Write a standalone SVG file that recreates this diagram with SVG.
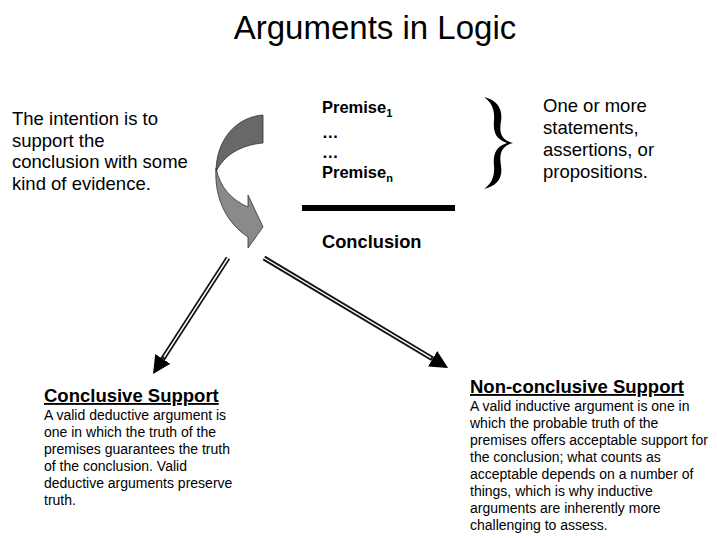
<svg xmlns="http://www.w3.org/2000/svg" width="717" height="538" viewBox="0 0 717 538">
<style>
text { font-family: "Liberation Sans", Arial, sans-serif; fill: #000; }
.title { font-size: 33px; }
.side { font-size: 18.5px; }
.prem { font-size: 16.5px; font-weight: bold; }
.sub { font-size: 11px; }
.concl { font-size: 18.3px; font-weight: bold; }
.head { font-size: 18.5px; font-weight: bold; text-decoration: underline; }
.body { font-size: 14px; }
.shaft { stroke: #111; stroke-width: 5; fill: none; }
.stripe { stroke: #fff; stroke-width: 1.4; fill: none; }
</style>
<defs>
<marker id="ah" markerUnits="userSpaceOnUse" markerWidth="18" markerHeight="18" refX="0" refY="9" orient="auto">
<path d="M0,0 L18,9 L0,18 Z" fill="#000"/>
</marker>
</defs>
<rect width="717" height="538" fill="#fff"/>

<g id="title"><text class="title" x="375" y="39" text-anchor="middle">Arguments in Logic</text></g>

<g id="intention">
<text class="side" x="12" y="125">The intention is to</text>
<text class="side" x="12" y="147">support the</text>
<text class="side" x="12" y="168">conclusion with some</text>
<text class="side" x="12" y="190">kind of evidence.</text>
</g>

<g id="curved-arrow" stroke="#333" stroke-width="0.8">
<path d="M263,115 C236,117 216,140 216,172 C223,156 240,145 263,143 Z" fill="#686868"/>
<path d="M216,168 C214,200 228,224 248,237 L248,248 L263,227 L248,195 L248,207 C232,200 220,188 216,168 Z" fill="#8a8a8a"/>
</g>

<g id="argument">
<text class="prem" x="322" y="113">Premise<tspan class="sub" dy="4">1</tspan></text>
<text class="prem" x="322" y="138">…</text>
<text class="prem" x="322" y="158">…</text>
<text class="prem" x="322" y="178">Premise<tspan class="sub" dy="4">n</tspan></text>
<rect x="302" y="205" width="153" height="6" fill="#000"/>
<text class="concl" x="322" y="248">Conclusion</text>
</g>

<g id="brace">
<path d="M484,97 C497,100 503,109 501,121 C499,133 501,140 513,143 C501,146 499,154 501,166 C503,178 497,186 484,189 C491,184 495,177 494,166 C493,155 495,147 507,143 C495,139 493,131 494,120 C495,109 491,102 484,97 Z" fill="#000"/>
</g>

<g id="statements">
<text class="side" x="543" y="112">One or more</text>
<text class="side" x="543" y="134">statements,</text>
<text class="side" x="543" y="156">assertions, or</text>
<text class="side" x="543" y="178">propositions.</text>
</g>

<g id="connectors">
<line class="shaft" x1="228" y1="258" x2="162.8" y2="358.9" marker-end="url(#ah)"/>
<line class="stripe" x1="228" y1="258" x2="164" y2="357"/>
<line class="shaft" x1="264" y1="258" x2="432.6" y2="358.8" marker-end="url(#ah)"/>
<line class="stripe" x1="264" y1="258" x2="431" y2="357.8"/>
</g>

<g id="conclusive">
<text class="head" x="44" y="402">Conclusive Support</text>
<text class="body" x="44" y="420">A valid deductive argument is</text>
<text class="body" x="44" y="437">one in which the truth of the</text>
<text class="body" x="44" y="454">premises guarantees the truth</text>
<text class="body" x="44" y="471">of the conclusion. Valid</text>
<text class="body" x="44" y="488">deductive arguments preserve</text>
<text class="body" x="44" y="505">truth.</text>
</g>

<g id="non-conclusive">
<text class="head" x="470" y="393">Non-conclusive Support</text>
<text class="body" x="470" y="411">A valid inductive argument is one in</text>
<text class="body" x="470" y="428">which the probable truth of the</text>
<text class="body" x="470" y="445">premises offers acceptable support for</text>
<text class="body" x="470" y="462">the conclusion; what counts as</text>
<text class="body" x="470" y="479">acceptable depends on a number of</text>
<text class="body" x="470" y="496">things, which is why inductive</text>
<text class="body" x="470" y="513">arguments are inherently more</text>
<text class="body" x="470" y="530">challenging to assess.</text>
</g>
</svg>
